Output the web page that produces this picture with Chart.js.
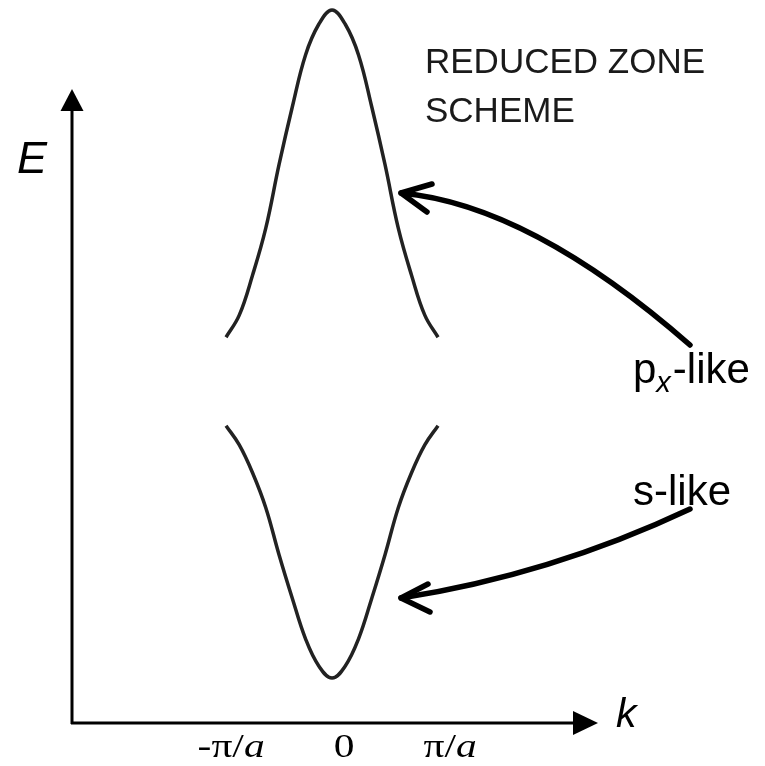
<!DOCTYPE html>
<html>
<head>
<meta charset="utf-8">
<script src="https://cdn.jsdelivr.net/npm/chart.js@4.4.0/dist/chart.umd.min.js"></script>
<style>
  html, body { margin: 0; padding: 0; background: #fff; }
</style>
</head>
<body>
<canvas id="bands" width="765" height="766"></canvas>
<script>
// k in units of pi/a
const kValues = [-1, -0.875, -0.75, -0.625, -0.5, -0.375, -0.25, -0.125, 0, 0.125, 0.25, 0.375, 0.5, 0.625, 0.75, 0.875, 1]
// band energies, arbitrary units
const pxBand = [5.41, 5.72, 6.28, 6.94, 7.83, 8.64, 9.37, 9.80, 10.0, 9.80, 9.37, 8.64, 7.83, 6.94, 6.28, 5.72, 5.41]
const sBand = [4.17, 3.90, 3.51, 3.02, 2.36, 1.75, 1.18, 0.80, 0.63, 0.80, 1.18, 1.75, 2.36, 3.02, 3.51, 3.90, 4.17]
// tick positions and labels (plain part, italic part)
const tickValues = [-1, 0, 1]
const tickLabels = [['-π/', 'a'], ['0', ''], ['π/', 'a']]

const toPoints = arr => arr.map((e, i) => ({ x: kValues[i], y: e }))

function arrow(ctx, x0, y0, cx, cy, x1, y1, barbA, barbB) {
    ctx.beginPath()
    ctx.moveTo(x0, y0)
    ctx.quadraticCurveTo(cx, cy, x1, y1)
    ctx.stroke()
    ctx.beginPath()
    ctx.moveTo(barbA[0], barbA[1])
    ctx.lineTo(x1, y1)
    ctx.lineTo(barbB[0], barbB[1])
    ctx.stroke()
}

const decorations = {
    id: 'decorations',
    afterDraw(chart) {
        const ctx = chart.ctx
        const { left, right, bottom } = chart.chartArea
        const xs = chart.scales.x
        ctx.save()
        ctx.strokeStyle = '#000'
        ctx.fillStyle = '#000'

        // axes with arrow heads
        ctx.lineWidth = 3
        ctx.beginPath()
        ctx.moveTo(left, bottom + 1)
        ctx.lineTo(left, 100)
        ctx.moveTo(left - 1, bottom)
        ctx.lineTo(right - 15, bottom)
        ctx.stroke()
        ctx.beginPath()
        ctx.moveTo(left, 89)
        ctx.lineTo(left - 11.5, 111)
        ctx.lineTo(left + 11.5, 111)
        ctx.closePath()
        ctx.fill()
        ctx.beginPath()
        ctx.moveTo(right, bottom)
        ctx.lineTo(right - 25, bottom - 12)
        ctx.lineTo(right - 25, bottom + 12)
        ctx.closePath()
        ctx.fill()

        // tick labels, drawn a little wide; a leading minus hangs to the left
        const sx = 1.22
        ctx.textBaseline = 'alphabetic'
        ctx.textAlign = 'left'
        tickValues.forEach((v, i) => {
            const [plain, ital] = tickLabels[i]
            ctx.font = '34px "Liberation Serif"'
            const w1 = ctx.measureText(plain).width
            const wMinus = plain.startsWith('-') ? ctx.measureText('-').width : 0
            ctx.font = 'italic 34px "Liberation Serif"'
            const w2 = ctx.measureText(ital).width
            const cx = xs.getPixelForValue(v) + 12
            ctx.save()
            ctx.translate(cx, 757)
            ctx.scale(sx, 1)
            const x0 = -(w1 - wMinus + w2) / 2 - wMinus
            ctx.font = '34px "Liberation Serif"'
            ctx.fillText(plain, x0, 0)
            ctx.font = 'italic 34px "Liberation Serif"'
            ctx.fillText(ital, x0 + w1, 0)
            ctx.restore()
        })

        // axis titles
        ctx.font = 'italic 45px "Liberation Sans"'
        ctx.fillText('E', 17, 173)
        ctx.font = 'italic 41px "Liberation Sans"'
        ctx.fillText('k', 616, 727)

        // heading
        ctx.fillStyle = '#1a1a1a'
        ctx.font = '35px "Liberation Sans"'
        ctx.fillText('REDUCED ZONE', 425, 73)
        ctx.fillText('SCHEME', 425, 122)

        // band names
        ctx.fillStyle = '#000'
        ctx.font = '42px "Liberation Sans"'
        ctx.fillText('p', 633, 383)
        const pw = ctx.measureText('p').width
        ctx.font = 'italic 29px "Liberation Sans"'
        ctx.fillText('x', 633 + pw, 392)
        const xw = ctx.measureText('x').width
        ctx.font = '42px "Liberation Sans"'
        ctx.fillText('-like', 633 + pw + xw + 2, 383)
        ctx.fillText('s-like', 633, 505)

        // pointer arrows
        ctx.lineWidth = 5.5
        ctx.lineCap = 'round'
        ctx.lineJoin = 'round'
        arrow(ctx, 690, 345, 530, 205, 401, 193, [432, 184], [427, 212])
        arrow(ctx, 690, 509, 550, 575, 401, 598, [428, 584], [430, 612])
        ctx.restore()
    }
}

const bandStyle = {
    borderColor: '#222',
    backgroundColor: '#222',
    borderWidth: 3.5,
    pointRadius: 0,
    tension: 0.4,
    clip: false
}

new Chart(document.getElementById('bands'), {
    type: 'line',
    data: {
        datasets: [
            { label: 'px-like', data: toPoints(pxBand), ...bandStyle },
            { label: 's-like', data: toPoints(sBand), ...bandStyle }
        ]
    },
    options: {
        responsive: false,
        animation: false,
        layout: { padding: { left: 72, right: 167, top: 10, bottom: 43 } },
        plugins: {
            legend: { display: false },
            tooltip: { enabled: false }
        },
        scales: {
            x: { type: 'linear', min: -2.453, max: 2.509, display: false },
            y: { min: 0, max: 10, display: false }
        }
    },
    plugins: [decorations]
})
</script>
</body>
</html>
